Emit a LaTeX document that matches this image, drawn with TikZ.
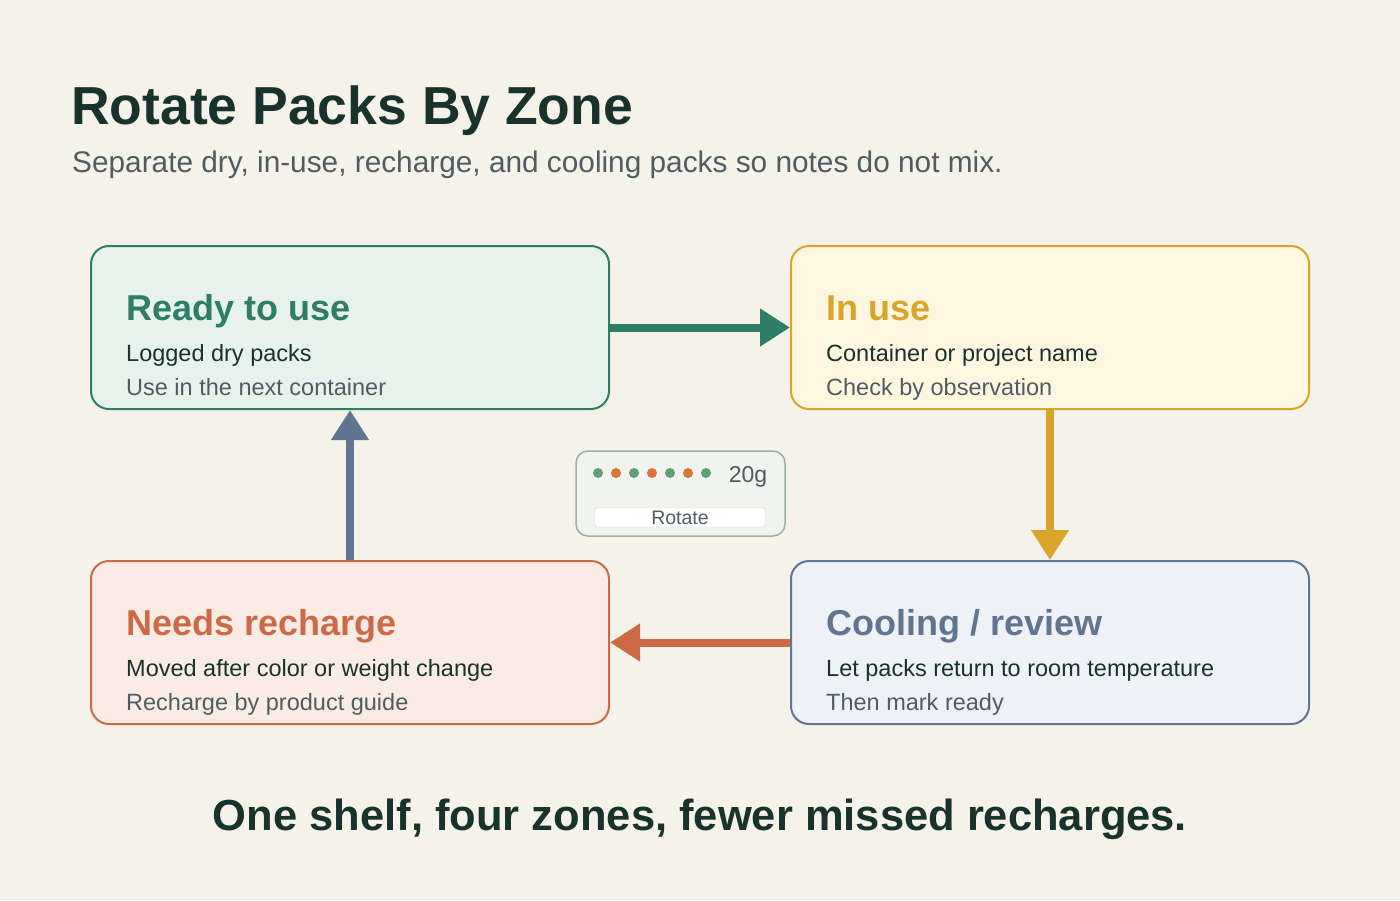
\documentclass[tikz,border=0pt]{standalone}
\usepackage{fontspec}
\setmainfont{Liberation Sans}
\usetikzlibrary{arrows.meta}
\definecolor{bg}{HTML}{F5F2EA}
\definecolor{ink}{HTML}{17332B}
\definecolor{sub}{HTML}{4F5D63}
\definecolor{gC}{HTML}{2E7D66}\definecolor{gF}{HTML}{E8F2EC}
\definecolor{yC}{HTML}{D8A52A}\definecolor{yF}{HTML}{FFF6DF}
\definecolor{rC}{HTML}{CC6A48}\definecolor{rF}{HTML}{FAEBE4}
\definecolor{bC}{HTML}{5F7591}\definecolor{bF}{HTML}{EEF1F6}
\definecolor{dG}{HTML}{5E9E74}\definecolor{dO}{HTML}{DB7438}
\definecolor{wB}{HTML}{9DB0A6}\definecolor{wF}{HTML}{F1F3EF}
\begin{document}
\begin{tikzpicture}[x=1pt,y=-1pt,
 box/.style={draw=#1,line width=2pt,rounded corners=18pt},
 ttl/.style={anchor=base west,inner sep=0pt,font=\fontsize{36}{40}\selectfont\bfseries},
 l1/.style={anchor=base west,inner sep=0pt,text=ink,font=\fontsize{23.5}{26}\selectfont},
 l2/.style={anchor=base west,inner sep=0pt,text=sub,font=\fontsize{23.5}{26}\selectfont},
 arr/.style={draw=#1,line width=8pt,-{Triangle[length=30pt,width=36pt]}},
 dot/.style={circle,inner sep=0pt,minimum size=10pt}]
\fill[bg] (0,0) rectangle (1400,900);
\node[anchor=base west,inner sep=0pt,text=ink,font=\fontsize{53.5}{60}\selectfont\bfseries] (t) at (71,124) {Rotate Packs By Zone};
\node[anchor=base west,inner sep=0pt,text=sub,font=\fontsize{29.8}{32}\selectfont] (s) at (72,172) {Separate dry, in-use, recharge, and cooling packs so notes do not mix.};
% boxes
\node[box=gC,fill=gF,minimum width=518pt,minimum height=163pt] (A) at (350,327.5) {};
\node[box=yC,fill=yF,minimum width=518pt,minimum height=163pt] (B) at (1050,327.5) {};
\node[box=rC,fill=rF,minimum width=518pt,minimum height=163pt] (D) at (350,642.5) {};
\node[box=bC,fill=bF,minimum width=518pt,minimum height=163pt] (C) at (1050,642.5) {};
\node[ttl,text=gC] (at) at (126,320) {Ready to use};
\node[l1] (a1) at (126,361) {Logged dry packs};
\node[l2] (a2) at (126,395) {Use in the next container};
\node[ttl,text=yC] (bt) at (826,320) {In use};
\node[l1] (b1) at (826,361) {Container or project name};
\node[l2] (b2) at (826,395) {Check by observation};
\node[ttl,text=rC] (dt) at (126,635) {Needs recharge};
\node[l1] (d1) at (126,676) {Moved after color or weight change};
\node[l2] (d2) at (126,710) {Recharge by product guide};
\node[ttl,text=bC] (ct) at (826,635) {Cooling / review};
\node[l1] (c1) at (826,676) {Let packs return to room temperature};
\node[l2] (c2) at (826,710) {Then mark ready};
% arrows
\draw[arr=gC] (A.east) -- (B.west);
\draw[arr=yC] (B.south) -- (C.north);
\draw[arr=rC] (C.west) -- (D.east);
\draw[arr=bC] (D.north) -- (A.south);
% widget
\node[draw=wB,fill=wF,line width=1.5pt,rounded corners=12pt,minimum width=209pt,minimum height=85pt] (w) at (680.5,493.5) {};
\foreach \x/\c [count=\i] in {598/dG,616/dO,634/dG,652/dO,670/dG,688/dO,706/dG}
  \node[dot,fill=\c] (d\i) at (\x,473) {};
\node[text=sub,font=\fontsize{23}{26}\selectfont] (g) at (748,477) {20g};
\node[draw=gray!35,fill=white,rounded corners=2pt,minimum width=170pt,minimum height=19pt,inner sep=0pt,text=sub,font=\fontsize{19.5}{20}\selectfont] (r) at (680,517.5) {Rotate};
\node[anchor=base,inner sep=0pt,text=ink,font=\fontsize{43.5}{48}\selectfont\bfseries] (f) at (700,830) {One shelf, four zones, fewer missed recharges.};
\end{tikzpicture}
\end{document}
